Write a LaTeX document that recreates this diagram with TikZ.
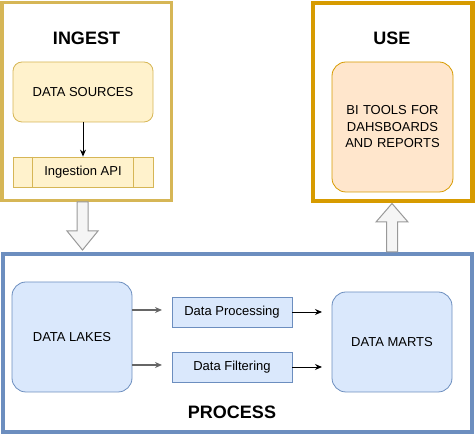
\documentclass[tikz,border=0pt]{standalone}
\usepackage{fontspec}
\setmainfont{Liberation Sans}
\usetikzlibrary{arrows.meta}
\definecolor{ystroke}{HTML}{D6B656}
\definecolor{yfill}{HTML}{FFF2CC}
\definecolor{ostroke}{HTML}{D79B00}
\definecolor{ofill}{HTML}{FFE6CC}
\definecolor{bstroke}{HTML}{6C8EBF}
\definecolor{bfill}{HTML}{DAE8FC}
\definecolor{agrey}{HTML}{999999}
\definecolor{afill}{HTML}{F5F5F5}
\tikzset{
  every node/.style={font=\fontsize{13}{16.5}\selectfont, inner sep=0pt, align=center},
  title/.style={font=\fontsize{18}{21}\selectfont\bfseries},
  ybox/.style={draw=ystroke, fill=yfill, rounded corners=9pt, line width=0.8pt},
  obox/.style={draw=ostroke, fill=ofill, rounded corners=14pt, line width=0.8pt},
  bbox/.style={draw=bstroke, fill=bfill, rounded corners=14pt, line width=0.8pt},
  bsq/.style={draw=bstroke, fill=bfill, line width=0.8pt},
  conn/.style={-{Stealth[length=7pt,width=6pt]}, line width=0.9pt, black},
  gconn/.style={-{Stealth[length=7pt,width=6pt]}, line width=1.3pt, black!60},
  bigarrow/.style={draw=agrey, fill=afill, line width=1pt, line join=miter},
}
\begin{document}
\begin{tikzpicture}[x=1pt,y=-1pt]
\useasboundingbox (0,0) rectangle (475,435);
% frames
\draw[ystroke, line width=3pt] (2,2.5) rectangle (171.5,200.5);
\draw[ostroke, line width=4.5pt] (313,3) rectangle (472.5,201);
\draw[bstroke, line width=4pt] (3,254) rectangle (472,432);
% big arrows
\draw[bigarrow] (77,202) -- (88,202) -- (88,231) -- (98,231) -- (82.5,250) -- (67,231) -- (77,231) -- cycle;
\draw[bigarrow] (386.5,252) -- (397.5,252) -- (397.5,222) -- (408,222) -- (392,203.5) -- (376,222) -- (386.5,222) -- cycle;
% titles
\node[title] (tin) at (86.5,38) {INGEST};
\node[title] (tuse) at (392,38) {USE};
\node[title] (tproc) at (232,412) {PROCESS};
% ingest
\node[ybox, minimum width=140pt, minimum height=60pt] (src) at (83,92) {DATA SOURCES};
\node[draw=ystroke, fill=yfill, line width=0.8pt, minimum width=140pt, minimum height=30pt] (api) at (83,172) {Ingestion API};
\draw[ystroke, line width=0.8pt] ([xshift=20pt]api.north west) -- ([xshift=20pt]api.south west);
\draw[ystroke, line width=0.8pt] ([xshift=-20pt]api.north east) -- ([xshift=-20pt]api.south east);
\draw[conn] (src.south) -- (api.north);
% use
\node[obox, minimum width=121pt, minimum height=130pt, text width=115pt] (bi) at (392.5,127) {BI TOOLS FOR\\DAHSBOARDS\\AND REPORTS};
% process
\node[bbox, minimum width=120pt, minimum height=110pt] (lakes) at (72,337) {DATA LAKES};
\node[bsq, minimum width=120pt, minimum height=30pt] (proc) at (232,312) {Data Processing};
\node[bsq, minimum width=120pt, minimum height=30pt] (filt) at (232,367) {Data Filtering};
\node[bbox, minimum width=120pt, minimum height=100pt] (marts) at (392,342) {DATA MARTS};
\coordinate (l1) at (132,310);
\coordinate (l2) at (132,365);
\coordinate (e1) at (162,310);
\coordinate (e2) at (162,365);
\coordinate (m1) at (322,312);
\coordinate (m2) at (322,367);
\draw[gconn] (l1) -- (e1);
\draw[gconn] (l2) -- (e2);
\draw[conn] (proc.east) -- (m1);
\draw[conn] (filt.east) -- (m2);
\end{tikzpicture}
\end{document}
